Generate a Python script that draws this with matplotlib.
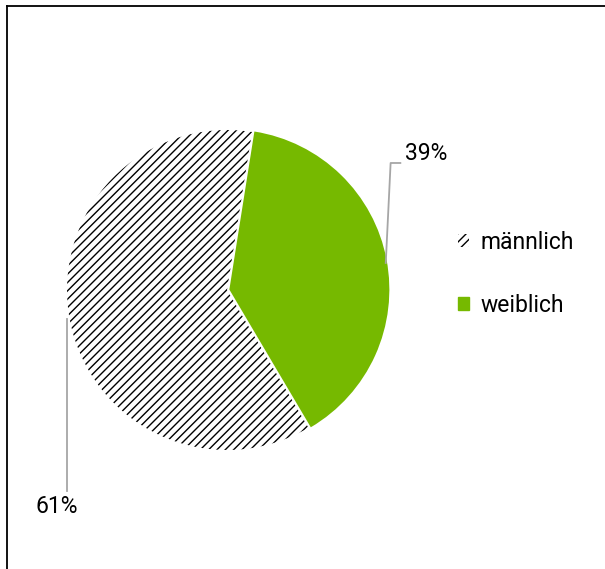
import matplotlib
matplotlib.use("Agg")
import matplotlib.pyplot as plt
from matplotlib.patches import Patch
from matplotlib.lines import Line2D
import numpy as np

categories = ["männlich", "weiblich"]
values = [61, 39]
labels = ["61%", "39%"]

GREEN = "#76B900"
plt.rcParams['font.family'] = ['Roboto', 'DejaVu Sans']
plt.rcParams['hatch.linewidth'] = 1.0

fig = plt.figure(figsize=(6.05, 5.69), dpi=100)
W, H = 605, 569
cx, cy, r = 227, 290, 160
ax = fig.add_axes([(cx - r) / W, 1 - (cy + r) / H, 2 * r / W, 2 * r / H])

wedges, _ = ax.pie(values, startangle=81, counterclock=True,
                   colors=["white", GREEN], explode=[0, 0.015],
                   wedgeprops=dict(linewidth=0))
wedges[0].set_hatch("////")
wedges[0].set_edgecolor("black")
wedges[0].set_linewidth(0)
wedges[1].set_clip_on(False)
ax.set_xlim(-1, 1)
ax.set_ylim(-1, 1)
ax.set_aspect("equal")

grey = "#a6a6a6"
s = 162 / r
# 39% label
ax.plot([0.98 * s, 1.01 * s, 1.07 * s], [0.167 * s, 0.784 * s, 0.784 * s],
        color=grey, lw=1.3, clip_on=False)
ax.text(1.10 * s, 0.84 * s, labels[1], ha="left", va="center", fontsize=16.5, color="black")
# 61% label
ax.plot([-0.99 * s, -0.99 * s], [-0.18 * s, -1.24 * s], color=grey, lw=1.3, clip_on=False)
ax.text(-1.05 * s, -1.335 * s, labels[0], ha="center", va="center", fontsize=16.5, color="black")

handles = [Patch(facecolor="white", edgecolor="black", hatch="////", linewidth=0),
           Patch(facecolor=GREEN, edgecolor=GREEN)]
fig.legend(handles, categories, loc="center left",
           bbox_to_anchor=(458 / W, 1 - 274 / H), frameon=False,
           fontsize=16.5, handlelength=0.5, handleheight=0.5,
           handletextpad=0.5, labelspacing=1.75, borderpad=0, borderaxespad=0)

# border (top and left visible)
fig.add_artist(Line2D([6.5 / W, 6.5 / W], [0, 1 - 5.5 / H], color="black", lw=1.3))
fig.add_artist(Line2D([6.5 / W, 1], [1 - 5.5 / H, 1 - 5.5 / H], color="black", lw=1.3))

fig.savefig("out.png", dpi=100, facecolor="white")
